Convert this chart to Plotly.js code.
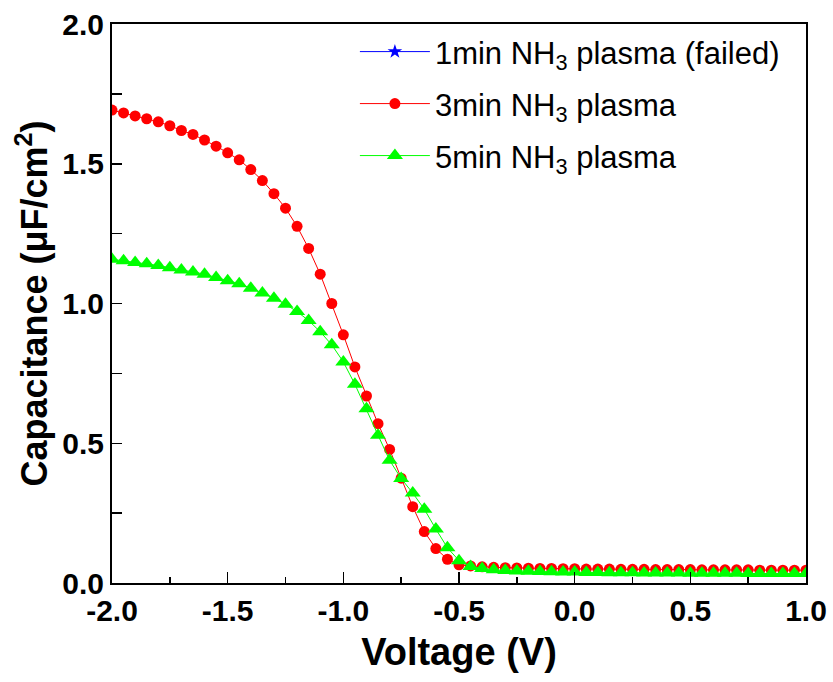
<!DOCTYPE html>
<html>
<head>
<meta charset="utf-8">
<script src="https://cdn.plot.ly/plotly-3.0.1.min.js"></script>
<style>
  html, body { margin: 0; padding: 0; background: #ffffff; }
  #chart { width: 833px; height: 682px; }
</style>
</head>
<body>
<div id="chart"></div>
<script>
// Voltage sweep (V)
const voltage = [
  -2.00, -1.95, -1.90, -1.85, -1.80, -1.75, -1.70, -1.65, -1.60, -1.55,
  -1.50, -1.45, -1.40, -1.35, -1.30, -1.25, -1.20, -1.15, -1.10, -1.05,
  -1.00, -0.95, -0.90, -0.85, -0.80, -0.75, -0.70, -0.65, -0.60, -0.55,
  -0.50, -0.45, -0.40, -0.35, -0.30, -0.25, -0.20, -0.15, -0.10, -0.05,
   0.00,  0.05,  0.10,  0.15,  0.20,  0.25,  0.30,  0.35,  0.40,  0.45,
   0.50,  0.55,  0.60,  0.65,  0.70,  0.75,  0.80,  0.85,  0.90,  0.95,
   1.00
];

// 1min NH3 plasma (failed) - legend entry only, no points shown in the figure
const voltage1min = [null];
const cap1min = [null];

// 3min NH3 plasma (uF/cm^2)
const cap3min = [
  1.692, 1.682, 1.671, 1.661, 1.650, 1.636, 1.619, 1.605, 1.585, 1.563,
  1.539, 1.514, 1.479, 1.440, 1.393, 1.341, 1.276, 1.197, 1.105, 1.000,
  0.888, 0.773, 0.669, 0.570, 0.478, 0.375, 0.273, 0.184, 0.123, 0.085,
  0.065, 0.061, 0.058, 0.056, 0.055, 0.054, 0.053, 0.052, 0.052, 0.051,
  0.051, 0.050, 0.050, 0.050, 0.049, 0.049, 0.049, 0.048, 0.048, 0.048,
  0.048, 0.047, 0.047, 0.047, 0.047, 0.047, 0.046, 0.046, 0.046, 0.046,
  0.046
];

// 5min NH3 plasma (uF/cm^2)
const cap5min = [
  1.158, 1.153, 1.147, 1.142, 1.136, 1.128, 1.120, 1.113, 1.105, 1.093,
  1.081, 1.071, 1.055, 1.038, 1.019, 0.997, 0.971, 0.939, 0.899, 0.852,
  0.791, 0.711, 0.623, 0.529, 0.439, 0.374, 0.322, 0.264, 0.193, 0.126,
  0.080, 0.059, 0.052, 0.047, 0.045, 0.043, 0.042, 0.041, 0.040, 0.039,
  0.039, 0.038, 0.038, 0.037, 0.037, 0.037, 0.036, 0.036, 0.036, 0.036,
  0.035, 0.035, 0.035, 0.035, 0.035, 0.034, 0.034, 0.034, 0.034, 0.034,
  0.034
];

const seriesNames = [
  '1min NH<sub>3</sub> plasma (failed)',
  '3min NH<sub>3</sub> plasma',
  '5min NH<sub>3</sub> plasma'
];

const xTickVals = [-2.0, -1.5, -1.0, -0.5, 0.0, 0.5, 1.0];
const xTickText = ['-2.0', '-1.5', '-1.0', '-0.5', '0.0', '0.5', '1.0'];
const yTickVals = [0.0, 0.5, 1.0, 1.5, 2.0];
const yTickText = ['0.0', '0.5', '1.0', '1.5', '2.0'];

const FONT = 'Liberation Sans, Arial, Helvetica, sans-serif';

const traces = [
  {
    x: voltage1min, y: cap1min, name: seriesNames[0], legend: 'legend',
    type: 'scatter', mode: 'lines+markers', showlegend: true,
    line: { color: '#0000ff', width: 1 },
    marker: { symbol: 'star', color: '#0000ff', size: 11 }
  },
  {
    x: voltage, y: cap3min, name: seriesNames[1], legend: 'legend2',
    type: 'scatter', mode: 'lines+markers',
    line: { color: '#ff0000', width: 1 },
    marker: { symbol: 'circle', color: '#ff0000', size: 11 }
  },
  {
    x: voltage, y: cap5min, name: seriesNames[2], legend: 'legend3',
    type: 'scatter', mode: 'lines+markers',
    line: { color: '#00ff00', width: 1 },
    marker: { symbol: 'triangle-up', color: '#00ff00', size: 14 }
  }
];

function legendAt(yPos) {
  return {
    x: 0.35, y: yPos, xanchor: 'left', yanchor: 'middle',
    bgcolor: 'rgba(0,0,0,0)', borderwidth: 0, itemwidth: 70,
    font: { family: FONT, size: 31, color: '#000000' }
  };
}

const layout = {
  width: 833, height: 682,
  paper_bgcolor: '#ffffff', plot_bgcolor: '#ffffff',
  margin: { l: 112, r: 27, t: 24, b: 99, pad: 0 },
  showlegend: true,
  legend: legendAt(0.950),
  legend2: legendAt(0.857),
  legend3: legendAt(0.764),
  xaxis: {
    range: [-2.0, 1.0], autorange: false,
    tickmode: 'array', tickvals: xTickVals, ticktext: xTickText,
    ticks: 'inside', ticklen: 11, tickwidth: 1.5, tickcolor: '#000000',
    minor: { dtick: 0.25, tick0: 0, ticks: 'inside', ticklen: 6, tickwidth: 1.5, tickcolor: '#000000', showgrid: false },
    showline: true, linecolor: '#000000', linewidth: 2, mirror: true,
    showgrid: false, zeroline: false,
    tickfont: { family: FONT, size: 30, color: '#000000', weight: 'bold' },
    title: { text: 'Voltage (V)', standoff: 12, font: { family: FONT, size: 38, color: '#000000', weight: 'bold' } }
  },
  yaxis: {
    range: [0.0, 2.0], autorange: false,
    tickmode: 'array', tickvals: yTickVals, ticktext: yTickText,
    ticks: 'inside', ticklen: 10, tickwidth: 1.5, tickcolor: '#000000',
    minor: { dtick: 0.25, tick0: 0, ticks: 'inside', ticklen: 10, tickwidth: 1.5, tickcolor: '#000000', showgrid: false },
    showline: true, linecolor: '#000000', linewidth: 2, mirror: true,
    showgrid: false, zeroline: false,
    tickfont: { family: FONT, size: 30, color: '#000000', weight: 'bold' },
    title: { text: 'Capacitance (μF/cm<sup>2</sup>)', standoff: 4, font: { family: FONT, size: 36, color: '#000000', weight: 'bold' } }
  }
};

Plotly.newPlot('chart', traces, layout, { displayModeBar: false, staticPlot: true });
</script>
</body>
</html>
